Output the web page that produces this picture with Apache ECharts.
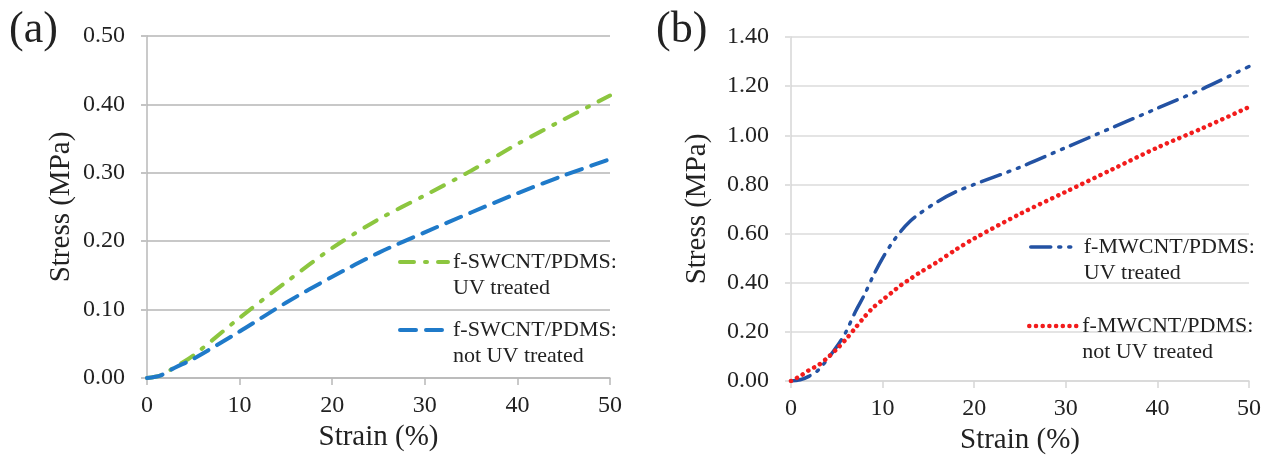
<!DOCTYPE html>
<html>
<head>
<meta charset="utf-8">
<script src="https://cdn.jsdelivr.net/npm/echarts@6/dist/echarts.min.js"></script>
<style>
  html, body { margin: 0; padding: 0; background: #fff; }
  #chart { width: 1264px; height: 463px; }
</style>
</head>
<body>
<div id="chart"></div>
<script>
// (a) f-SWCNT/PDMS
const strainA = [0, 1.5, 3, 5, 10, 15, 20, 25, 30, 35, 40, 45, 50];
const swUv = [0, 0.004, 0.016, 0.033, 0.088, 0.14, 0.19, 0.232, 0.267, 0.303, 0.342, 0.378, 0.413];
const swNoUv = [0, 0.004, 0.015, 0.028, 0.068, 0.11, 0.148, 0.183, 0.213, 0.242, 0.27, 0.296, 0.32];

// (b) f-MWCNT/PDMS
const strainB = [0, 1, 2, 3, 4, 5, 6, 7, 8, 9, 10, 11, 12, 13, 14, 16, 18, 20, 25, 30, 35, 40, 45, 50];
const mwUv = [0, 0.005, 0.02, 0.045, 0.09, 0.14, 0.2, 0.28, 0.35, 0.43, 0.5, 0.56, 0.61, 0.65, 0.68, 0.73, 0.77, 0.8, 0.87, 0.95, 1.03, 1.11, 1.19, 1.28];
const mwNoUv = [0, 0.02, 0.045, 0.065, 0.095, 0.13, 0.17, 0.215, 0.26, 0.3, 0.33, 0.36, 0.39, 0.415, 0.44, 0.485, 0.535, 0.58, 0.68, 0.77, 0.86, 0.95, 1.03, 1.115];

const nameSwUv = 'f-SWCNT/PDMS:\nUV treated';
const nameSwNo = 'f-SWCNT/PDMS:\nnot UV treated';
const nameMwUv = 'f-MWCNT/PDMS:\nUV treated';
const nameMwNo = 'f-MWCNT/PDMS:\nnot UV treated';

const font = "'Liberation Serif', 'DejaVu Serif', serif";
const ink = '#222';

const pairs = (xs, ys) => xs.map((x, i) => [x, ys[i]]);

const xAxisBase = (gridIndex, lineColor) => ({
  type: 'value',
  gridIndex: gridIndex,
  min: 0,
  max: 50,
  interval: 10,
  name: 'Strain (%)',
  nameLocation: 'middle',
  nameGap: 44,
  nameTextStyle: { fontFamily: font, fontSize: 29, color: ink },
  axisLine: { show: true, lineStyle: { color: lineColor, width: 1.5 } },
  axisTick: { show: true, inside: false, length: 7, lineStyle: { color: lineColor, width: 1.5 } },
  axisLabel: { margin: 16, fontFamily: font, fontSize: 24, color: ink },
  splitLine: { show: false }
});

// blank first line keeps the icon level with the first text line
const legendItem = (name, left, top, width) => ({
  show: true,
  data: [name],
  left: left,
  top: top,
  padding: 0,
  itemWidth: 48,
  itemHeight: 14,
  selectedMode: false,
  formatter: n => ' \n' + n,
  itemStyle: { opacity: 0 },
  lineStyle: { width: width },
  textStyle: { fontFamily: font, fontSize: 22, color: ink, lineHeight: 26 }
});

const chartDom = document.getElementById('chart');
const myChart = echarts.init(chartDom);

const option = {
  backgroundColor: '#fff',
  animation: false,
  title: [
    { text: '(a)', left: 9, top: 8, padding: 0, textStyle: { fontFamily: font, fontSize: 44, fontWeight: 'normal', color: ink } },
    { text: '(b)', left: 656, top: 8, padding: 0, textStyle: { fontFamily: font, fontSize: 44, fontWeight: 'normal', color: ink } }
  ],
  legend: [
    legendItem(nameSwUv, 398, 223, 4),
    legendItem(nameSwNo, 398, 291, 4),
    legendItem(nameMwUv, 1029, 208, 3.5),
    legendItem(nameMwNo, 1027, 287, 4.5)
  ],
  grid: [
    { left: 147, right: 654, top: 36, bottom: 85 },
    { left: 791, right: 14, top: 37, bottom: 82 }
  ],
  xAxis: [
    xAxisBase(0, '#b8b8b8'),
    xAxisBase(1, '#d6d6d6')
  ],
  yAxis: [
    {
      type: 'value',
      gridIndex: 0,
      min: 0,
      max: 0.5,
      interval: 0.1,
      name: 'Stress (MPa)',
      nameLocation: 'middle',
      nameGap: 71,
      nameTextStyle: { fontFamily: font, fontSize: 29, color: ink },
      axisLine: { show: true, lineStyle: { color: '#b8b8b8', width: 1.5 } },
      axisTick: { show: true, length: 6, lineStyle: { color: '#c4c4c4', width: 2 } },
      axisLabel: { margin: 22, fontFamily: font, fontSize: 24, color: ink, formatter: v => v.toFixed(2) },
      splitLine: { show: true, lineStyle: { color: '#c8c8c8', width: 2 } }
    },
    {
      type: 'value',
      gridIndex: 1,
      min: 0,
      max: 1.4,
      interval: 0.2,
      name: 'Stress (MPa)',
      nameLocation: 'middle',
      nameGap: 79,
      nameTextStyle: { fontFamily: font, fontSize: 29, color: ink },
      axisLine: { show: true, lineStyle: { color: '#d6d6d6', width: 1.5 } },
      axisTick: { show: true, length: 6, lineStyle: { color: '#e0e0e0', width: 2 } },
      axisLabel: { margin: 22, fontFamily: font, fontSize: 24, color: ink, formatter: v => v.toFixed(2) },
      splitLine: { show: true, lineStyle: { color: '#e4e4e4', width: 2 } }
    }
  ],
  series: [
    {
      name: nameSwUv,
      type: 'line',
      xAxisIndex: 0,
      yAxisIndex: 0,
      smooth: 0.3,
      symbol: 'none',
      color: '#8cc63f',
      lineStyle: { color: '#8cc63f', width: 4, type: [14, 11, 2, 11], cap: 'round' },
      data: pairs(strainA, swUv)
    },
    {
      name: nameSwNo,
      type: 'line',
      xAxisIndex: 0,
      yAxisIndex: 0,
      smooth: 0.3,
      symbol: 'none',
      color: '#1f7ac9',
      lineStyle: { color: '#1f7ac9', width: 4, type: [16, 10], cap: 'round' },
      data: pairs(strainA, swNoUv)
    },
    {
      name: nameMwUv,
      type: 'line',
      xAxisIndex: 1,
      yAxisIndex: 1,
      smooth: 0.3,
      symbol: 'none',
      color: '#2352a3',
      lineStyle: { color: '#2352a3', width: 3.5, type: [20, 8, 2, 8, 2, 8], cap: 'round' },
      data: pairs(strainB, mwUv)
    },
    {
      name: nameMwNo,
      type: 'line',
      xAxisIndex: 1,
      yAxisIndex: 1,
      smooth: 0.3,
      symbol: 'none',
      color: '#f21c1c',
      lineStyle: { color: '#f21c1c', width: 4.5, type: [0.1, 6.6], cap: 'round' },
      data: pairs(strainB, mwNoUv)
    }
  ]
};

option && myChart.setOption(option);
</script>
</body>
</html>
